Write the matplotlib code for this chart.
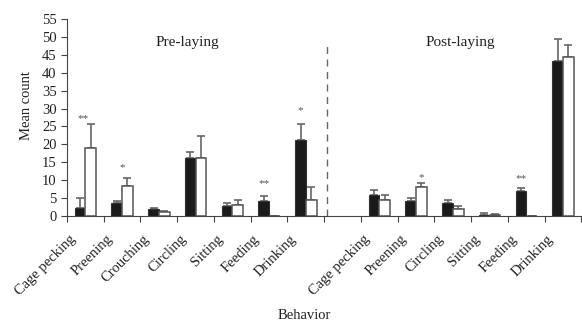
import matplotlib.pyplot as plt
import matplotlib.transforms as mtransforms
import numpy as np

plt.rcParams['font.family'] = ['Liberation Serif', 'DejaVu Serif']

pre_labels = ["Cage pecking", "Preening", "Crouching", "Circling", "Sitting", "Feeding", "Drinking"]
post_labels = ["Cage pecking", "Preening", "Circling", "Sitting", "Feeding", "Drinking"]

pre_black = [2.3, 3.5, 2.0, 16.3, 2.9, 4.2, 21.3]
pre_black_err = [2.7, 0.7, 0.3, 1.5, 0.7, 1.3, 4.4]
pre_white = [19.0, 8.5, 1.2, 16.3, 3.2, 0.0, 4.4]
pre_white_err = [6.8, 2.0, 0.15, 6.0, 1.4, 0.0, 3.7]

post_black = [5.8, 4.2, 3.7, 0.4, 7.1, 43.3]
post_black_err = [1.5, 0.9, 0.9, 0.35, 0.7, 6.0]
post_white = [4.4, 8.1, 2.0, 0.4, 0.0, 44.3]
post_white_err = [1.6, 1.2, 0.8, 0.1, 0.0, 3.3]

# significance marks: slot, shift, height, text
stars_slot = [0, 1, 5, 6, 9, 12]
stars_dx = [-0.05, 0.0, -0.15, -0.15, 0.15, -0.15]
stars_y = [27.3, 13.6, 9.1, 29.5, 10.8, 10.5]
stars_txt = ["**", "*", "**", "*", "*", "**"]

pre_pos = np.arange(7) + 0.5
post_pos = np.arange(8, 14) + 0.5
w = 0.29
grey = '#555555'

fig = plt.figure(figsize=(5.82, 3.24), dpi=100)
ax = fig.add_axes([0.1151, 0.3333, 0.884, 0.6081])

pos = np.concatenate([pre_pos, post_pos])
black = pre_black + post_black
black_err = pre_black_err + post_black_err
white = pre_white + post_white
white_err = pre_white_err + post_white_err

ax.bar(pos - w/2, black, w, color='#1a1a1a', edgecolor='#333333', linewidth=0.8, zorder=2)
ax.bar(pos + w/2, white, w, color='white', edgecolor=grey, linewidth=1.1, zorder=2)
ax.errorbar(pos - w/2, black, yerr=[np.zeros(len(black)), black_err], fmt='none',
            ecolor='#666666', elinewidth=1.2, capsize=3, capthick=1.2, zorder=1)
ax.errorbar(pos + w/2, white, yerr=[np.zeros(len(white)), white_err], fmt='none',
            ecolor='#666666', elinewidth=1.2, capsize=3, capthick=1.2, zorder=1)

for s, dx, y, t in zip(stars_slot, stars_dx, stars_y, stars_txt):
    ax.text(s + 0.5 + dx, y, t, ha='center', va='center', fontsize=8, color='#555555')

ax.plot([7.08, 7.08], [0, 48.5], ls=(0, (5, 4)), color='#666666', lw=1.0)

ax.text(3.27, 48.3, "Pre-laying", ha='center', va='center', fontsize=11, color='#222222')
ax.text(10.7, 48.3, "Post-laying", ha='center', va='center', fontsize=11, color='#222222')

ax.set_xlim(0, 14)
ax.set_ylim(0, 55)
ax.set_yticks(np.arange(0, 56, 5))
ax.set_xticks(np.arange(0, 15))
ax.set_xticklabels([])
ax.set_xticks(pos, minor=True)
ax.set_xticklabels(pre_labels + post_labels, minor=True, rotation=45, ha='right',
                   fontsize=10.5, color='#222222')
ax.tick_params(axis='x', which='minor', length=0, pad=12)
ax.tick_params(axis='both', which='major', direction='out', length=4, color='#444444',
               labelsize=10.5, labelcolor='#222222')
offset = mtransforms.ScaledTranslation(-0.07, 0, fig.dpi_scale_trans)
for lab in ax.get_xticklabels(minor=True):
    lab.set_transform(lab.get_transform() + offset)

for side in ['top', 'right']:
    ax.spines[side].set_visible(False)
for side in ['left', 'bottom']:
    ax.spines[side].set_color('#444444')

ax.set_ylabel("Mean count", fontsize=10.5, color='#222222')
ax.yaxis.set_label_coords(-0.066, 0.56)
ax.set_xlabel("Behavior", fontsize=10.5, color='#222222')
ax.xaxis.set_label_coords(0.462, -0.47)

fig.savefig('out.png', dpi=100)
